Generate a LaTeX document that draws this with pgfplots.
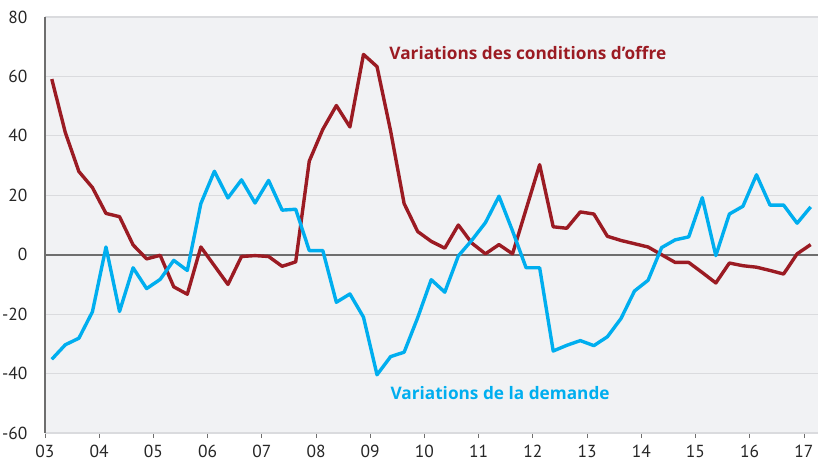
\documentclass[border=0pt]{standalone}
\usepackage{fontspec}
\setmainfont{PT Sans}
\newfontfamily\labelfont{Open Sans}
\usepackage{pgfplots}
\usepackage{pgfplotstable}
\pgfplotsset{compat=1.18}
\definecolor{offre}{HTML}{9B1B23}
\definecolor{dem}{HTML}{00AEEF}
\definecolor{bg}{HTML}{F1F2F4}
\definecolor{gridc}{HTML}{DADBDE}
\definecolor{axc}{HTML}{6E6E6E}
\pgfplotstableread{
t offre demande
3.125 59.1 -35.2
3.375 41.1 -30.3
3.625 28.0 -28.1
3.875 22.6 -19.2
4.125 13.9 2.6
4.375 12.8 -19.1
4.625 3.3 -4.4
4.875 -1.4 -11.4
5.125 -0.2 -8.3
5.375 -10.8 -1.9
5.625 -13.3 -5.3
5.875 2.6 17.2
6.125 -3.7 28.1
6.375 -10.0 19.1
6.625 -0.6 25.2
6.875 -0.3 17.4
7.125 -0.6 25.0
7.375 -3.9 15.0
7.625 -2.4 15.3
7.875 31.5 1.4
8.125 42.2 1.4
8.375 50.2 -16.0
8.625 43.0 -13.2
8.875 67.4 -21.0
9.125 63.3 -40.4
9.375 41.7 -34.3
9.625 17.2 -32.8
9.875 7.8 -21.2
10.125 4.5 -8.4
10.375 2.2 -12.6
10.625 10.0 -0.4
10.875 3.9 4.9
11.125 0.3 10.8
11.375 3.4 19.7
11.625 0.3 8.0
11.875 15.3 -4.4
12.125 30.3 -4.4
12.375 9.4 -32.4
12.625 8.9 -30.5
12.875 14.4 -28.9
13.125 13.7 -30.6
13.375 6.2 -27.6
13.625 4.8 -21.5
13.875 3.7 -12.2
14.125 2.6 -8.6
14.375 0.0 2.4
14.625 -2.6 5.0
14.875 -2.6 6.0
15.125 -6.0 19.2
15.375 -9.5 -0.3
15.625 -2.8 13.7
15.875 -3.7 16.3
16.125 -4.2 26.9
16.375 -5.3 16.7
16.625 -6.5 16.7
16.875 0.3 10.6
17.125 3.4 16.1
}\datatable
\begin{document}
\begin{tikzpicture}
\begin{axis}[
  name=ax,
  scale only axis,
  width=773bp, height=416bp,
  xmin=3, xmax=17.26, ymin=-60, ymax=80,
  axis background/.style={fill=bg},
  axis x line=bottom, axis y line=left,
  x axis line style={-, draw=gridc, line width=1.2bp},
  y axis line style={-, draw=axc, line width=2bp},
  ymajorgrids,
  grid style={gridc, line width=1.2bp},
  ytick={-60,-40,-20,0,20,40,60,80},
  yticklabels={-60,-40,-20,0,20,40,60,80},
  xtick={3,4,5,6,7,8,9,10,11,12,13,14,15,16,17},
  xticklabels={03,04,05,06,07,08,09,10,11,12,13,14,15,16,17},
  xtick align=outside,
  xtick style={axc, line width=0.8bp},
  major tick length=5bp,
  ytick style={draw=none},
  tick label style={font=\fontsize{17.5}{20}\selectfont, text=black!85},
  yticklabel style={inner sep=0pt, anchor=east, xshift=-15bp},
  xticklabel style={inner sep=0pt, anchor=north, yshift=-7bp},
  clip=false,
]
\addplot[axc, line width=2bp, forget plot] coordinates {(3,0) (17.26,0)};
\addplot[offre, line width=3.4bp, line join=round] table[x=t, y=offre] {\datatable};
\addplot[dem, line width=3.4bp, line join=round] table[x=t, y=demande] {\datatable};
\node[anchor=west, text=offre, font=\labelfont\bfseries\fontsize{17.3}{20}\selectfont, inner sep=0pt] at (axis cs:9.35,67.8) {Variations des conditions d’offre};
\node[anchor=west, text=dem, font=\labelfont\bfseries\fontsize{17.3}{20}\selectfont, inner sep=0pt] at (axis cs:9.37,-46.6) {Variations de la demande};
\end{axis}
\pgfresetboundingbox
\path[use as bounding box] ([xshift=-45bp,yshift=-29bp]ax.south west) rectangle ([xshift=1bp,yshift=17bp]ax.north east);
\end{tikzpicture}
\end{document}
